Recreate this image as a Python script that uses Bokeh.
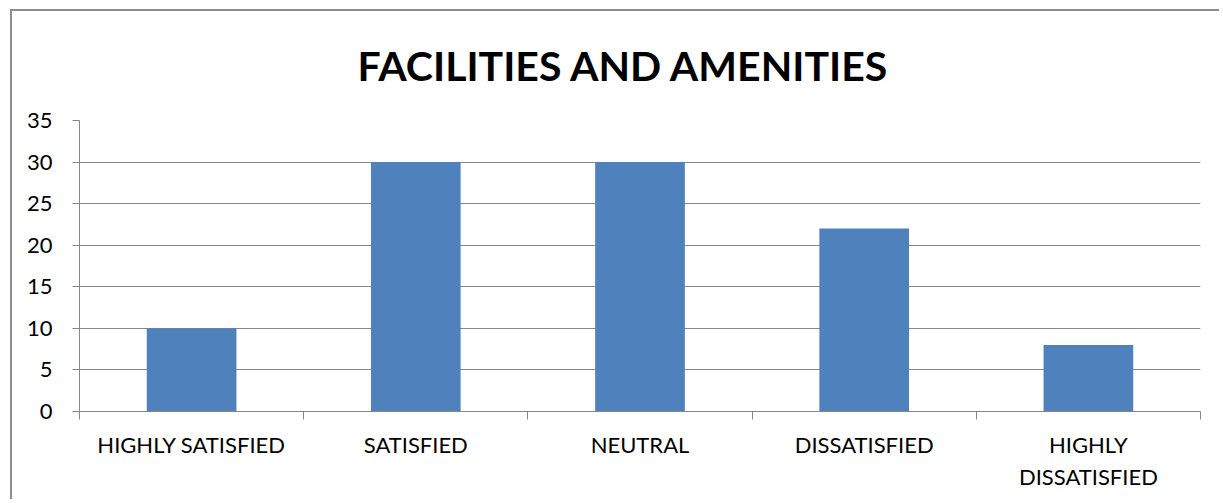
from bokeh.plotting import figure
from bokeh.models import Range1d, FixedTicker, ColumnDataSource
from bokeh.embed import file_html
from bokeh.resources import INLINE

categories = ["HIGHLY SATISFIED", "SATISFIED", "NEUTRAL", "DISSATISFIED", "HIGHLY\nDISSATISFIED"]
values = [10, 30, 30, 22, 8]
y_ticks = [0, 5, 10, 15, 20, 25, 30, 35]
title_text = "FACILITIES AND AMENITIES"

xs = list(range(1, len(categories) + 1))
src = ColumnDataSource(dict(x=xs, top=values))

FONT = "Lato"
GRAY = "#868686"

p = figure(width=1209, height=490, output_backend="svg", toolbar_location=None,
           x_range=Range1d(0.5, len(categories) + 0.5), y_range=Range1d(0, 35),
           title=title_text, min_border_left=67, min_border_right=21,
           min_border_bottom=90, min_border_top=6)
p.styles = {"margin-left": "10px", "margin-top": "9px",
            "border-left": "2px solid #8c8c8c", "border-top": "2px solid #8c8c8c"}
p.title.text_font = FONT
p.title.text_font_size = "41px"
p.title.text_font_style = "bold"
p.title.align = "left"
p.title.vertical_align = "top"
p.title.offset = 278
p.title.text_color = "black"
p.title.standoff = 58

p.vbar(x="x", top="top", width=0.4, bottom=0, source=src, fill_color="#4F81BD", line_color=None)

p.outline_line_color = None
p.xgrid.grid_line_color = None
p.ygrid.grid_line_color = GRAY
p.ygrid.ticker = FixedTicker(ticks=y_ticks)

p.yaxis.ticker = FixedTicker(ticks=y_ticks)
p.yaxis.axis_line_color = GRAY
p.yaxis.major_tick_line_color = GRAY
p.yaxis.major_tick_out = 7
p.yaxis.major_tick_in = 0
p.yaxis.minor_tick_line_color = None
p.yaxis.major_label_text_font = FONT
p.yaxis.major_label_text_font_size = "22px"
p.yaxis.major_label_text_color = "black"
p.yaxis.major_label_standoff = 20

p.xaxis.ticker = FixedTicker(ticks=xs, minor_ticks=[x - 0.5 for x in xs] + [xs[-1] + 0.5])
p.xaxis.major_label_overrides = {x: c for x, c in zip(xs, categories)}
p.xaxis.axis_line_color = GRAY
p.xaxis.major_tick_line_color = None
p.xaxis.major_tick_out = 0
p.xaxis.major_tick_in = 0
p.xaxis.minor_tick_line_color = GRAY
p.xaxis.minor_tick_out = 8
p.xaxis.minor_tick_in = 0
p.xaxis.major_label_text_font = FONT
p.xaxis.major_label_text_font_size = "22px"
p.xaxis.major_label_text_color = "black"
p.xaxis.major_label_standoff = 11

open("out.html", "w").write(file_html(p, INLINE))
